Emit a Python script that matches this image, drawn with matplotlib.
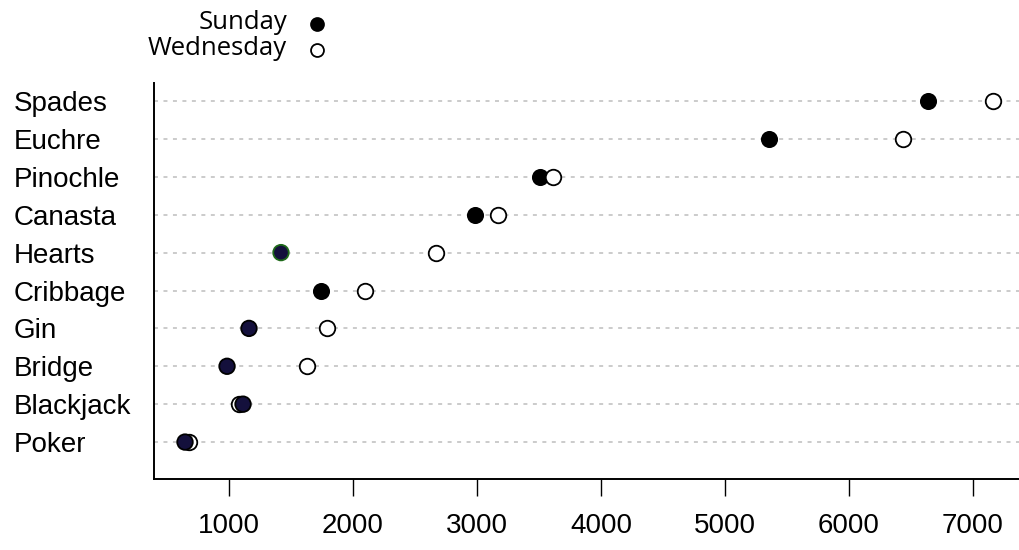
import numpy as np
import matplotlib
matplotlib.use("Agg")
import matplotlib.pyplot as plt
from matplotlib.lines import Line2D

# card games, bottom to top
games = ["Poker", "Blackjack", "Bridge", "Gin", "Cribbage",
         "Hearts", "Canasta", "Pinochle", "Euchre", "Spades"]
sunday = [645, 1113, 984, 1161, 1742, 1419, 2984, 3508, 5355, 6640]
wednesday = [677, 1081, 1629, 1790, 2097, 2669, 3169, 3613, 6435, 7165]
sun_fill = ["#14103c", "#14103c", "#14103c", "#14103c", "black",
            "#14103c", "black", "black", "black", "black"]
sun_edge = ["black", "black", "black", "black", "black",
            "#1f6a1a", "black", "black", "black", "black"]
xticks = [1000, 2000, 3000, 4000, 5000, 6000, 7000]

fig = plt.figure(figsize=(10.2, 5.5), dpi=100)
ax = fig.add_axes([0.151, 0.129, 0.849, 0.72])

y = np.arange(len(games))

# grille pointillee
for yi in y:
    ax.axhline(yi, color="#bdbdbd", lw=1.1, ls=(0, (2.6, 3.6)), zorder=1)

# points noirs d'abord, puis les cercles, puis les points colores
black = np.array([c == "black" for c in sun_fill])
sun = np.array(sunday)
ax.scatter(sun[black], y[black], s=125, c="black", edgecolors="black",
           linewidths=1.1, zorder=3)
ax.scatter(wednesday, y, s=125, facecolors="white", edgecolors="black",
           linewidths=1.3, zorder=4)
ax.scatter(sun[~black], y[~black], s=125,
           c=[sun_fill[i] for i in y[~black]],
           edgecolors=[sun_edge[i] for i in y[~black]],
           linewidths=1.3, zorder=5)

ax.set_xlim(395, 7380)
ax.set_ylim(-0.976, 9.475)
ax.set_xticks(xticks)
ax.set_xticklabels([str(v) for v in xticks], fontfamily="Liberation Sans", fontsize=20)
ax.tick_params(axis="x", length=12.2, width=1, pad=12, color="black")
ax.set_yticks(y)
ax.set_yticklabels(games, fontfamily="Liberation Sans", fontsize=20, ha="left")
ax.tick_params(axis="y", length=0, pad=100.8)

for s in ["top", "right"]:
    ax.spines[s].set_visible(False)
for s in ["left", "bottom"]:
    ax.spines[s].set_linewidth(1.4)

# legende en haut
leg_labels = ["Sunday", "Wednesday"]
leg_base = [1 - 29 / 550, 1 - 55 / 550]
leg_mark = [1 - 24 / 550, 1 - 50 / 550]
for lab, lb, lm, fc in zip(leg_labels, leg_base, leg_mark, ["black", "white"]):
    fig.text(0.2814, lb, lab, ha="right", va="baseline", fontsize=18.5,
             fontfamily="Open Sans")
    fig.add_artist(Line2D([0.3105], [lm], transform=fig.transFigure, marker="o",
                          ms=9.3, mfc=fc, mec="black", mew=1.3, ls="none"))

fig.savefig("out.png", dpi=100)
